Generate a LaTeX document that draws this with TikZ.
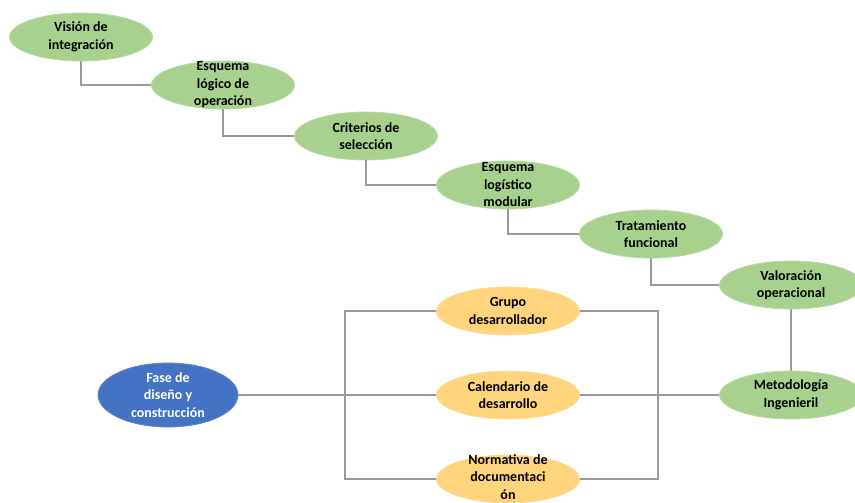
\documentclass[tikz,border=0pt]{standalone}
\usepackage{fontspec}
\setmainfont{Carlito}
\usetikzlibrary{shapes.geometric}
\definecolor{leafgreen}{HTML}{A9D18E}
\definecolor{leafedge}{HTML}{B8DAA2}
\definecolor{amber}{HTML}{FFD47C}
\definecolor{amberedge}{HTML}{FFDD96}
\definecolor{royal}{HTML}{4472C4}
\definecolor{royaledge}{HTML}{5A84CC}
\definecolor{wire}{HTML}{9A9A9A}
\tikzset{
  bubble/.style={ellipse, inner sep=0pt, minimum width=143pt, minimum height=48pt, line width=0.8pt},
  greenbubble/.style={bubble, fill=leafgreen, draw=leafedge},
  amberbubble/.style={bubble, fill=amber, draw=amberedge},
  bluebubble/.style={bubble, fill=royal, draw=royaledge, minimum width=140pt, minimum height=64pt},
  caption/.style={align=center, font=\bfseries\fontsize{14}{17.5}\selectfont, inner sep=0pt},
  link/.style={draw=wire, line width=1.1pt}
}
\begin{document}
\begin{tikzpicture}[x=1pt, y=-1pt]
\useasboundingbox (0,0) rectangle (855,503);
\fill[white] (0,0) rectangle (855,503);

% corners of the two brackets around the amber branch
\coordinate (lt) at (345,311);
\coordinate (lb) at (345,479);
\coordinate (rt) at (658,311);
\coordinate (rb) at (658,479);

% stair of green steps
\node[greenbubble, label={[caption]center:Visión de\\integración}] (vis) at (81,37) {};
\node[greenbubble, label={[caption]center:Esquema\\lógico de\\operación}] (esq1) at (223,85) {};
\node[greenbubble, label={[caption]center:Criterios de\\selección}] (cri) at (366,136) {};
\node[greenbubble, label={[caption]center:Esquema\\logístico\\modular}] (esq2) at (508,185) {};
\node[greenbubble, label={[caption]center:Tratamiento\\funcional}] (tra) at (651,234) {};
\node[greenbubble, label={[caption]center:Valoración\\operacional}] (val) at (791,285) {};
\node[greenbubble, label={[caption]center:Metodología\\Ingenieril}] (met) at (791,395) {};

% amber branch
\node[amberbubble, label={[caption]center:Grupo\\desarrollador}] (gru) at (508,311) {};
\node[amberbubble, label={[caption]center:Calendario de\\desarrollo}] (cal) at (508,395) {};
\node[amberbubble, label={[caption, yshift=2pt]center:Normativa de\\documentaci\\ón}] (nor) at (508,479) {};

% root
\node[bluebubble, label={[caption, text=white]center:Fase de\\diseño y\\construcción}] (fase) at (168,395) {};

% connectors
\draw[link] (vis.south) |- (esq1.west);
\draw[link] (esq1.south) |- (cri.west);
\draw[link] (cri.south) |- (esq2.west);
\draw[link] (esq2.south) |- (tra.west);
\draw[link] (tra.south) |- (val.west);
\draw[link] (val.south) -- (met.north);

\draw[link] (gru.west) -- (lt) -- (lb) -- (nor.west);
\draw[link] (fase.east) -- (fase.east -| lt);
\draw[link] (cal.west) -- (cal.west -| lt);
\draw[link] (gru.east) -- (rt) -- (rb) -- (nor.east);
\draw[link] (cal.east) -- (met.west);
\end{tikzpicture}
\end{document}
